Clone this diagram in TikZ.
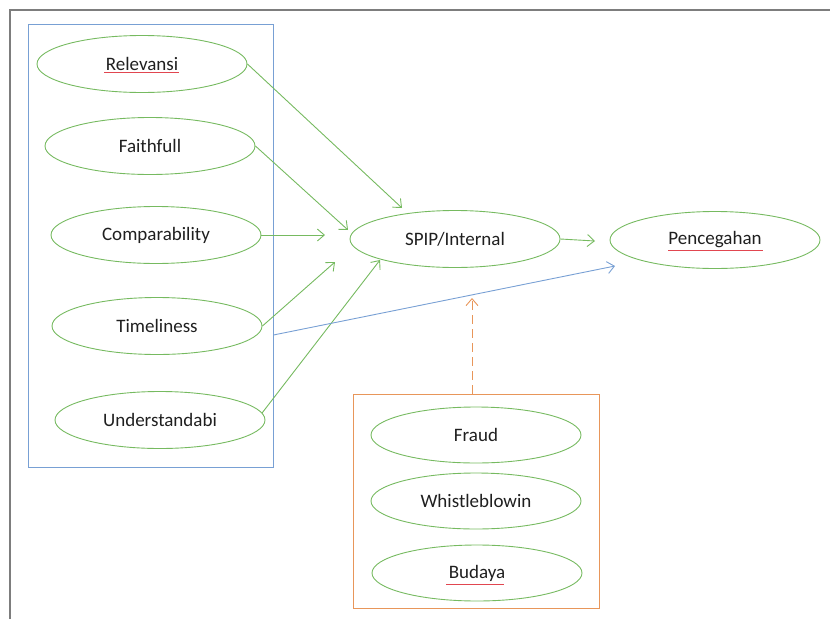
\documentclass[tikz,border=0pt]{standalone}
\usepackage{fontspec}
\setmainfont{Carlito}
\usetikzlibrary{shapes.geometric,arrows.meta}
\definecolor{egreen}{RGB}{118,186,96}
\definecolor{bblue}{RGB}{120,160,212}
\definecolor{oorange}{RGB}{232,150,90}
\definecolor{fgray}{RGB}{125,125,125}
\definecolor{sred}{RGB}{225,70,80}
\tikzset{
  oval/.style={ellipse,draw=egreen,line width=0.9pt,minimum width=210pt,minimum height=57pt,inner sep=0pt,font=\fontsize{19}{22}\selectfont,text=black!88},
  garrow/.style={draw=egreen,line width=0.9pt,-{Straight Barb[length=7pt,width=12pt]}},
  barrow/.style={draw=bblue,line width=0.9pt,-{Straight Barb[length=7pt,width=12pt]}},
  oarrow/.style={draw=oorange,line width=0.9pt,dash pattern=on 9pt off 5pt,-{Straight Barb[length=7pt,width=12pt]}},
  squig/.style={draw=sred,line width=0.7pt},
}
\begin{document}
\begin{tikzpicture}[x=1pt,y=-1pt]
\useasboundingbox (0,0) rectangle (830,619);
% outer frame
\draw[fgray,line width=1.5pt] (10,619) -- (10,10) -- (830,10);
% group boxes
\node[draw=bblue,line width=0.9pt,minimum width=245pt,minimum height=443pt,inner sep=0pt] (bbox) at (150.5,245.5) {};
\node[draw=oorange,line width=0.9pt,minimum width=246pt,minimum height=214pt,inner sep=0pt] (obox) at (476,501) {};
% ellipses
\node[oval] (rel) at (142,64) {Relevansi};
\node[oval] (fai) at (150,146) {Faithfull};
\node[oval] (com) at (156,235) {Comparability};
\node[oval] (tim) at (157,326) {Timeliness};
\node[oval] (und) at (160,420) {Understandabi};
\node[oval] (spip) at (455,239) {SPIP/Internal};
\node[oval] (pen) at (715,240) {Pencegahan};
\node[oval,minimum width=210pt,minimum height=56pt] (fra) at (476,435) {Fraud};
\node[oval,minimum width=210pt,minimum height=56pt] (whi) at (476,501) {Whistleblowin};
\node[oval,minimum width=210pt,minimum height=56pt] (bud) at (477,573) {Budaya};
% spell-check underlines
\draw[squig] (104,72) -- (179,72);
\draw[squig] (668,250) -- (763,250);
\draw[squig] (446,584) -- (504,584);
% free ends
\coordinate (e1) at (402,208);
\coordinate (e2) at (348,230);
\coordinate (e3) at (325,235);
\coordinate (e4) at (335,262);
\coordinate (e5) at (380,260);
\coordinate (e6) at (595,241);
\coordinate (bs) at (bbox.east |- 0,335);
\coordinate (e7) at (615,266);
\coordinate (os) at (obox.north -| 472,0);
\coordinate (e8) at (472,298);
% connectors
\draw[garrow] (rel.east) -- (e1);
\draw[garrow] (fai.east) -- (e2);
\draw[garrow] (com.east) -- (e3);
\draw[garrow] (tim.east) -- (e4);
\draw[garrow] (und.4) -- (e5);
\draw[garrow] (spip.east) -- (e6);
\draw[barrow] (bs) -- (e7);
\draw[oarrow] (os) -- (e8);
\end{tikzpicture}
\end{document}
